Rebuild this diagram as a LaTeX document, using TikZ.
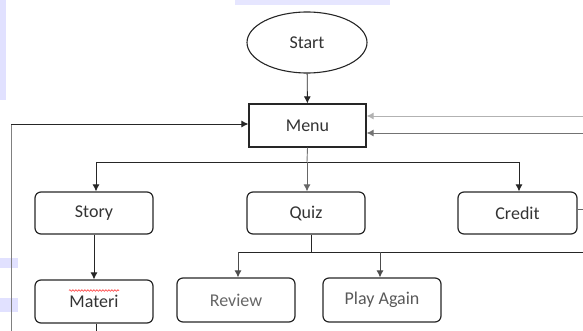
\documentclass[tikz,border=0pt]{standalone}
\usepackage{fontspec}
\setmainfont{Carlito}
\usetikzlibrary{arrows.meta,shapes.geometric,decorations.pathmorphing}
\begin{document}
\begin{tikzpicture}[x=1pt,y=-1pt,
  lbl/.style={font=\fontsize{18}{20}\selectfont,text=black!80},
  box/.style={lbl,draw=black!85,line width=1.2pt,minimum width=118pt,minimum height=42pt,inner sep=0pt},
  rbox/.style={box,rounded corners=6pt},
  conn/.style={draw=black!85,line width=0.9pt},
  arr/.style={conn,-{Latex[length=7pt,width=7pt]}}]
\useasboundingbox (0,0) rectangle (583,331);
% faint watermark shapes
\fill[blue!15!white,opacity=0.8] (0,0) rectangle (6,100);
\fill[blue!15!white,opacity=0.8] (0,258) rectangle (18,268);
\fill[blue!15!white,opacity=0.8] (0,298) rectangle (18,312);
\fill[blue!12!white,opacity=0.8] (235,0) rectangle (390,5);
% nodes
\node[lbl,draw=black!85,line width=1.1pt,ellipse,minimum width=120pt,minimum height=61pt,inner sep=0pt] (start) at (307,42.5) {Start};
\node[box,minimum width=117pt,minimum height=43pt] (menu) at (307.5,125.5) {Menu};
\node[rbox] (story) at (94,213) {Story};
\node[rbox] (quiz) at (306,213) {Quiz};
\node[rbox,minimum width=119pt] (credit) at (517.5,213) {Credit};
\node[rbox,minimum height=43pt] (materi) at (94,301.5) {Materi};
\node[rbox,minimum height=44pt] (review) at (236,300) {\textcolor{black!60}{Review}};
\node[rbox,minimum height=44pt] (play) at (382,300) {\textcolor{black!65}{Play Again}};
% spell-check underline
\draw[red!80,line width=0.6pt,decorate,decoration={snake,amplitude=0.8pt,segment length=3pt}] ([xshift=-25pt,yshift=11pt]materi.center) -- ([xshift=25pt,yshift=11pt]materi.center);
% coordinates
\coordinate (mbot) at (307,162);
\coordinate (hl) at (96,162);
\coordinate (hr) at (519,162);
\coordinate (qb) at (311,252);
\coordinate (ql) at (238,252);
\coordinate (qr) at (583,252);
\coordinate (lb) at (11,331);
\coordinate (lt) at (11,124);
\coordinate (r1) at (583,116);
\coordinate (r2) at (583,133);
\coordinate (cr) at (583,209);
\coordinate (mb) at (96,331);
\coordinate (pa) at (380,252);
% connectors
\draw[arr] (start) -- (menu);
\draw[conn,draw=black!55] (menu.south) -- (mbot);
\draw[conn] (hl) -- (hr);
\draw[arr] (hl) -- (story.north -| hl);
\draw[arr,draw=black!60] (mbot) -- (quiz.north -| mbot);
\draw[arr] (hr) -- (credit.north -| hr);
\draw[arr] (story) -- (materi.north -| story);
\draw[conn] (materi.south -| mb) -- (mb);
\draw[conn,draw=black!50] (lb) -- (lt);
\draw[arr] (lt) -- (menu.west |- lt);
\draw[arr,draw=black!30] (r1) -- (menu.east |- r1);
\draw[arr,draw=black!55] (r2) -- (menu.east |- r2);
\draw[conn,draw=black!60] (credit.east |- cr) -- (cr);
\draw[conn] (quiz.south -| qb) -- (qb);
\draw[conn] (ql) -- (qr);
\draw[arr,draw=black!70] (ql) -- (review.north -| ql);
\draw[arr,draw=black!70] (pa) -- (play.north -| pa);
\end{tikzpicture}
\end{document}
